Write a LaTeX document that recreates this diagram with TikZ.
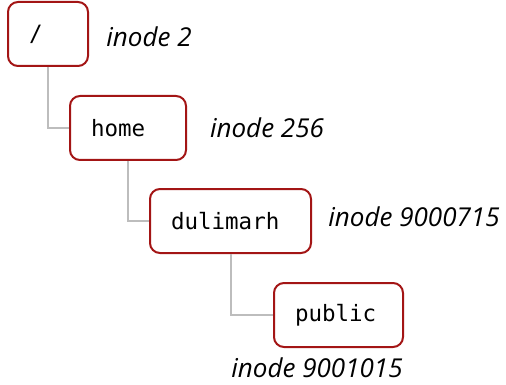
\documentclass[tikz,border=0pt]{standalone}
\usepackage{fontspec}
\setmainfont{Open Sans}
\setmonofont{DejaVu Sans Mono}
\begin{document}
\begin{tikzpicture}[x=1pt,y=-1pt,
  dirbox/.style={draw=boxred, line width=2pt, rounded corners=10pt,
    minimum height=64pt, inner xsep=21pt, align=left,
    font=\ttfamily\fontsize{22.5}{26}\selectfont},
  inodelbl/.style={font=\itshape\fontsize{26}{30}\selectfont},
  link/.style={draw=linkgray, line width=2pt}]
\definecolor{boxred}{HTML}{A31515}
\definecolor{linkgray}{HTML}{BDBDBD}
\useasboundingbox (0,0) rectangle (506,385);
\node[dirbox, text width=38pt]  (root) at (48,34)    {/};
\node[dirbox, text width=74pt]  (home) at (128,128)  {home};
\node[dirbox, text width=119pt] (dul)  at (230.5,221) {dulimarh};
\node[dirbox, text width=87pt]  (pub)  at (338.5,315) {public};
\node[inodelbl] (i1) at (149,37)  {inode 2};
\node[inodelbl] (i2) at (267,128) {inode 256};
\node[inodelbl] (i3) at (414,217) {inode 9000715};
\node[inodelbl] (i4) at (317,368) {inode 9001015};
\draw[link] (root.south) |- (home.west);
\draw[link] (home.south) |- (dul.west);
\draw[link] (dul.south) |- (pub.west);
\end{tikzpicture}
\end{document}
